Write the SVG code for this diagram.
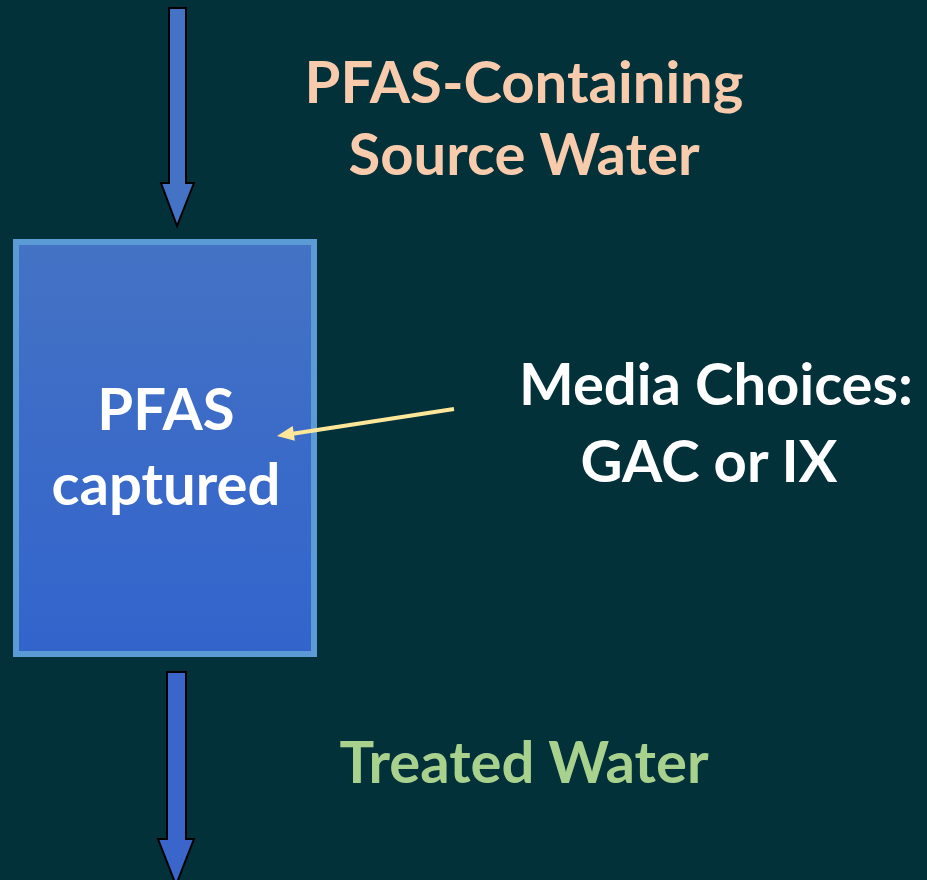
<svg xmlns="http://www.w3.org/2000/svg" width="927" height="880" viewBox="0 0 927 880">
<defs>
<linearGradient id="boxg" x1="0" y1="0" x2="0" y2="1">
<stop offset="0" stop-color="#4472C4"/>
<stop offset="1" stop-color="#3264CC"/>
</linearGradient>
<style>
.t{font-family:"Lato","Open Sans","Liberation Sans",sans-serif;font-weight:bold;text-anchor:middle;font-size:58px}
.flow{stroke:#000;stroke-width:2;stroke-linejoin:miter}
.media{stroke:#FFE699;stroke-width:4;fill:none}
.mediahead{fill:#FFE699}
</style>
</defs>
<rect width="927" height="880" fill="#02313A"/>
<g id="source-label">
<text class="t" x="524" y="103" fill="#F8CBAD">PFAS-Containing</text>
<text class="t" x="524" y="175" fill="#F8CBAD">Source Water</text>
</g>
<g id="column">
<rect x="16" y="242" width="298" height="412" fill="url(#boxg)" stroke="#5B9BD5" stroke-width="6"/>
<text class="t" x="166" y="430" fill="#FFFFFF">PFAS</text>
<text class="t" x="166" y="505" fill="#FFFFFF">captured</text>
</g>
<g id="media-label">
<text class="t" x="716" y="405" fill="#FFFFFF">Media Choices:</text>
<text class="t" x="709" y="482" fill="#FFFFFF">GAC or IX</text>
</g>
<g id="treated-label">
<text class="t" x="524" y="783" fill="#A9D18E">Treated Water</text>
</g>
<g id="connectors">
<path class="flow" d="M169,8 H186 V183 H194 L177,226 L161,183 H169 Z" fill="#4472C4"/>
<path class="flow" d="M167,672 H186 V839 H194 L176,885 L158,839 H167 Z" fill="#3A66CC"/>
<line class="media" x1="454" y1="409" x2="291" y2="434"/>
<path class="mediahead" d="M277,436 L292.7,426 L294.9,440.8 Z"/>
</g>
</svg>
